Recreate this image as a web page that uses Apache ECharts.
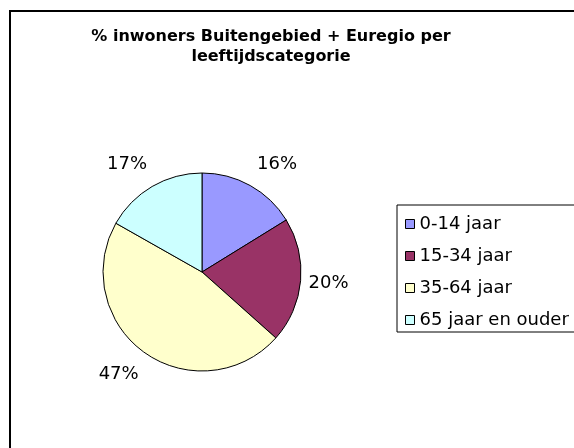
<!DOCTYPE html>
<html>
<head>
<meta charset="utf-8">
<script src="https://cdn.jsdelivr.net/npm/echarts@6/dist/echarts.min.js"></script>
<style>
  html, body { margin: 0; padding: 0; background: #fff; }
  #chart { width: 574px; height: 448px; }
</style>
</head>
<body>
<div id="chart"></div>
<script>
const categories = ["0-14 jaar", "15-34 jaar", "35-64 jaar", "65 jaar en ouder"];
const shares = [16.2, 20.4, 46.6, 16.8];
const colors = ["#9999FF", "#993366", "#FFFFCC", "#CCFFFF"];

// kleine verschuivingen van de labels t.o.v. de standaard plek
const labelDx = [-8, -17, 11, 10];
const labelDy = [-4, 1, 6, -5];

const font = "DejaVu Sans";

let myChart = echarts.init(document.getElementById("chart"));
myChart.setOption({
  animation: false,
  title: {
    text: "% inwoners Buitengebied + Euregio per\nleeftijdscategorie",
    left: 271,
    top: 27,
    padding: 0,
    textAlign: "center",
    textStyle: {
      fontFamily: font,
      fontSize: 16,
      fontWeight: "bold",
      color: "#000",
      lineHeight: 20
    }
  },
  legend: {
    orient: "vertical",
    left: 397,
    top: 205,
    padding: [9, 120, 2, 8],
    itemGap: 12,
    itemWidth: 9,
    itemHeight: 9,
    icon: "rect",
    borderColor: "#000",
    borderWidth: 1,
    selectedMode: false,
    itemStyle: { borderColor: "#000", borderWidth: 1 },
    textStyle: {
      fontFamily: font,
      fontSize: 18,
      color: "#000",
      lineHeight: 20
    },
    data: categories
  },
  graphic: [
    {
      type: "rect",
      shape: { x: 10, y: 11, width: 700, height: 600 },
      style: { fill: "none", stroke: "#000", lineWidth: 2 },
      silent: true
    }
  ],
  series: [
    {
      type: "pie",
      center: [202, 272],
      radius: 99,
      startAngle: 90,
      clockwise: true,
      avoidLabelOverlap: false,
      itemStyle: { borderColor: "#000", borderWidth: 1 },
      emphasis: { disabled: true },
      label: {
        show: true,
        position: "outside",
        fontFamily: font,
        fontSize: 18,
        color: "#000",
        distanceToLabelLine: 5,
        formatter: function (p) {
          return Math.round(p.percent) + "%";
        }
      },
      labelLine: { show: false, length: 20, length2: 0 },
      labelLayout: function (params) {
        return { dx: labelDx[params.dataIndex], dy: labelDy[params.dataIndex] };
      },
      data: categories.map(function (name, i) {
        return { name: name, value: shares[i], itemStyle: { color: colors[i] } };
      })
    }
  ]
});
</script>
</body>
</html>
